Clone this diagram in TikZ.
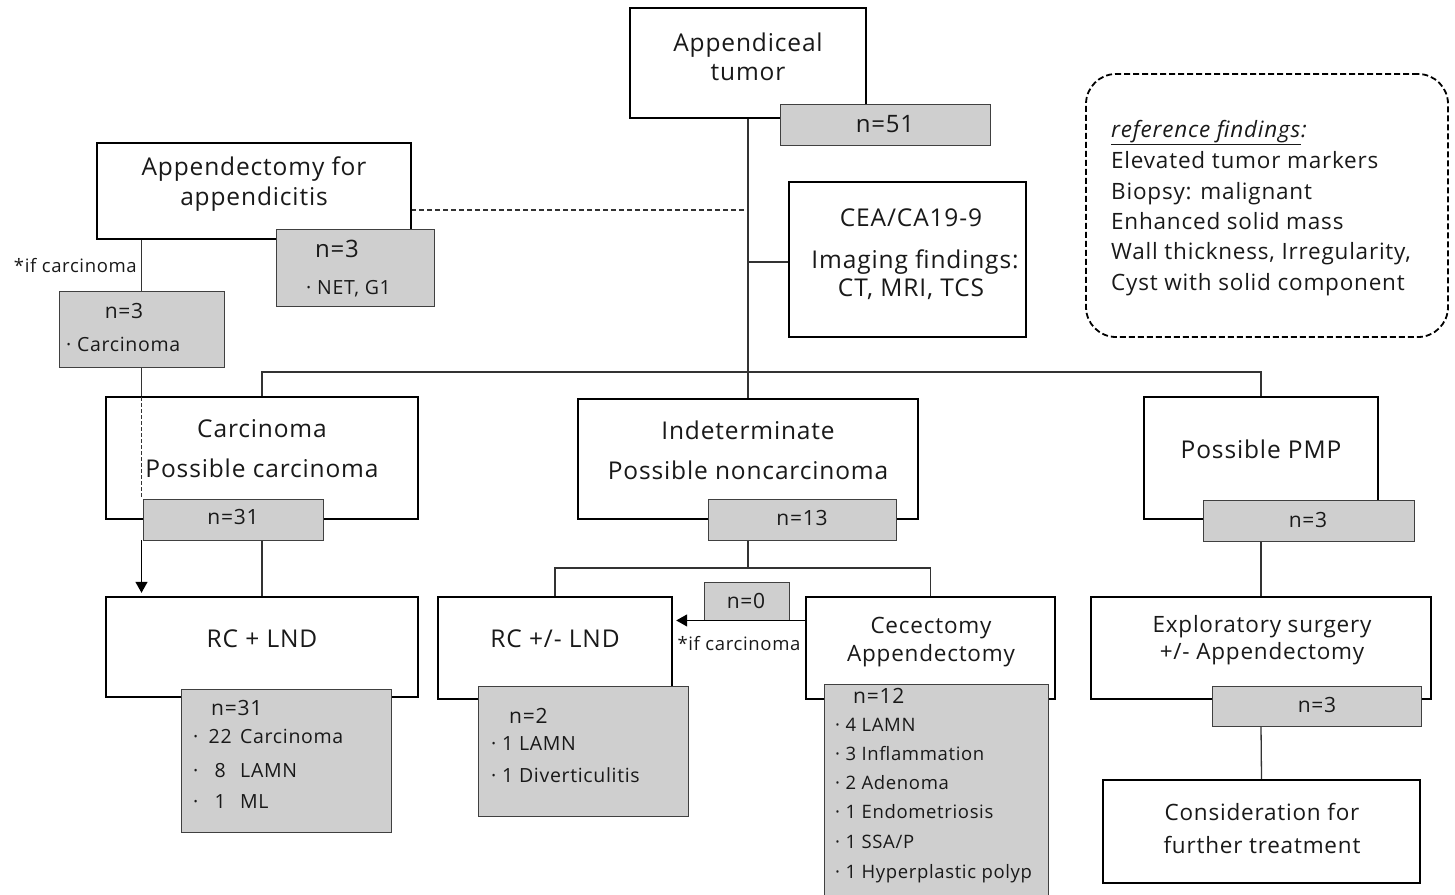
\documentclass[tikz,border=0pt]{standalone}
\usepackage{fontspec}
\setmainfont{Open Sans}[LetterSpace=3.5]
\usetikzlibrary{arrows.meta,backgrounds}
\newcommand{\fmain}{\fontsize{24.5}{28}\selectfont}
\newcommand{\fsub}{\fontsize{22.5}{26}\selectfont}
\newcommand{\fnumA}{\fontsize{24}{28}\selectfont}
\newcommand{\fnumB}{\fontsize{21}{25}\selectfont}
\newcommand{\flst}{\fontsize{19.5}{23}\selectfont}
\newcommand{\flstS}{\fontsize{18.5}{22}\selectfont}
\newcommand{\fref}{\fontsize{22.5}{26}\selectfont}
\newcommand{\litem}[2]{\makebox[12pt][l]{·}\makebox[30pt][c]{#1}\hspace{5pt}#2}
\begin{document}
\begin{tikzpicture}[x=1pt,y=-1pt,
  mainbox/.style={draw=black, line width=2.4pt, fill=white, inner sep=0pt},
  graybox/.style={draw=black!75, line width=0.9pt, fill=black!19, inner sep=0pt},
  refbox/.style={draw=black, line width=1.8pt, dash pattern=on 6pt off 3pt, rounded corners=30pt, inner sep=0pt},
  conn/.style={draw=black!80, line width=1.3pt},
  dconn/.style={conn, dash pattern=on 5pt off 3pt},
  dconnS/.style={conn, line width=1.1pt, dash pattern=on 4pt off 2pt},
  arr/.style={draw=black, line width=1.4pt, -{Triangle[length=11pt,width=12pt]}, shorten >=3pt},
  tx/.style={inner sep=0pt, anchor=base, text=black!90},
  txl/.style={inner sep=0pt, anchor=base west, text=black!90},
  txr/.style={inner sep=0pt, anchor=base east, text=black!90}]
\useasboundingbox (0,0) rectangle (1455,894);

% ---------- boxes ----------
\node[mainbox, minimum width=236pt, minimum height=110pt] (tumor) at (748,63) {};
\node[graybox, minimum width=210pt, minimum height=41pt] (n51) at (885,124.5) {};
\node[mainbox, minimum width=314pt, minimum height=96pt] (appx) at (254,191) {};
\node[graybox, minimum width=158pt, minimum height=77pt] (net) at (355,267.5) {};
\node[mainbox, minimum width=237pt, minimum height=155pt] (cea) at (907.5,259.5) {};
\node[refbox, minimum width=362pt, minimum height=263pt] (ref) at (1267,205.5) {};
\node[graybox, minimum width=165pt, minimum height=76pt] (carcg) at (141.5,329) {};
\node[mainbox, minimum width=312pt, minimum height=122pt] (carc) at (262,458) {};
\node[graybox, minimum width=180pt, minimum height=41pt] (n31) at (233,519.5) {};
\node[mainbox, minimum width=312pt, minimum height=100pt] (rclnd) at (262,647) {};
\node[graybox, minimum width=210pt, minimum height=143pt] (l31) at (286,760.5) {};
\node[mainbox, minimum width=340pt, minimum height=120pt] (indet) at (748,459) {};
\node[graybox, minimum width=188pt, minimum height=41pt] (n13) at (802,519.5) {};
\node[mainbox, minimum width=234pt, minimum height=102pt] (rcpm) at (555,648) {};
\node[graybox, minimum width=210pt, minimum height=130pt] (l2) at (583,751) {};
\node[graybox, minimum width=85pt, minimum height=38pt] (n0) at (746.5,601) {};
\node[mainbox, minimum width=249pt, minimum height=102pt] (cec) at (930.5,648) {};
\node[graybox, minimum width=224pt, minimum height=214pt] (l12) at (936,791) {};
\node[mainbox, minimum width=234pt, minimum height=122pt] (pmp) at (1261,458) {};
\node[graybox, minimum width=211pt, minimum height=41pt] (n3p) at (1308.5,520.5) {};
\node[mainbox, minimum width=340pt, minimum height=102pt] (expl) at (1261,648) {};
\node[graybox, minimum width=209pt, minimum height=40pt] (n3e) at (1316.5,706) {};
\node[mainbox, minimum width=317pt, minimum height=103pt] (cons) at (1261.5,831.5) {};

\coordinate (j1) at (748,372);
\coordinate (j3) at (748,568);
\coordinate (dA) at (411,210);
\coordinate (jc) at (748,262);

% ---------- connectors ----------
\begin{scope}[on background layer]
\draw[conn] (tumor.south) -- (indet.north);
\draw[conn] (jc) -- (jc -| cea.west);
\draw[dconn] (dA) -- (dA -| tumor.south);
\draw[conn] (carc.north) |- (j1 -| pmp.north) -- (pmp.north);
\draw[conn] (appx.south -| carcg.north) -- (carcg.north);
\draw[conn] (carcg.south) -- (carcg.south |- carc.north);
\draw[conn] (n31.south -| carc.south) -- (rclnd.north);
\draw[conn] (n13.south -| indet.south) -- (j3);
\draw[conn] (rcpm.north) |- (j3 -| cec.north) -- (cec.north);
\draw[conn] (n3p.south -| pmp.south) -- (expl.north);
\draw[conn] (n3e.south -| expl.south) -- (cons.north);
\end{scope}
\draw[dconnS] ([yshift=-1.5pt]carcg.south |- carc.north) -- (carcg.south |- n31.north);
\draw[arr] (carcg.south |- n31.south) -- (carcg.south |- rclnd.north);
\draw[arr] (n0.south -| cec.west) -- (n0.south -| rcpm.east);

% ---------- texts ----------
\node[tx, font=\fmain] (t1) at (748,51) {Appendiceal};
\node[tx, font=\fmain] (t2) at (748,80) {tumor};
\node[tx, font=\fnumA] (t3) at (885,132) {n=51};
\node[tx, font=\fmain] (t4) at (254,175) {Appendectomy for};
\node[tx, font=\fmain] (t5) at (254,205) {appendicitis};
\node[tx, font=\fnumA] (t6) at (337,257) {n=3};
\node[txl, font=\flst] (t7) at (306,294) {· NET, G1};
\node[txr, font=\flstS] (t8) at (137,272) {*if carcinoma};
\node[tx, font=\fnumB] (t9) at (124,318) {n=3};
\node[txl, font=\flst] (t10) at (66,351) {· Carcinoma};
\node[tx, font=\fmain] (t11) at (911,226) {CEA/CA19-9};
\node[tx, font=\fmain] (t12) at (915,268) {Imaging findings:};
\node[tx, font=\fmain] (t13) at (911,296) {CT, MRI, TCS};
\node[txl, font=\fref] (r1) at (1111,137) {\underline{\textit{reference findings}}\textit{:}};
\node[txl, font=\fref] (r2) at (1111,168) {Elevated tumor markers};
\node[txl, font=\fref] (r3) at (1111,199) {Biopsy: malignant};
\node[txl, font=\fref] (r4) at (1111,229) {Enhanced solid mass};
\node[txl, font=\fref] (r5) at (1111,259) {Wall thickness, Irregularity,};
\node[txl, font=\fref] (r6) at (1111,290) {Cyst with solid component};
\node[tx, font=\fmain] (t14) at (262,437) {Carcinoma};
\node[tx, font=\fmain] (t15) at (262,477) {Possible carcinoma};
\node[tx, font=\fnumB] (t16) at (233,524) {n=31};
\node[tx, font=\fmain] (t17) at (262,647) {RC + LND};
\node[txl, font=\fnumB] (t18) at (211,715) {n=31};
\node[txl, font=\flst] (t19) at (193,743) {\litem{22}{Carcinoma}};
\node[txl, font=\flst] (t20) at (193,777) {\litem{8}{LAMN}};
\node[txl, font=\flst] (t21) at (193,808) {\litem{1}{ML}};
\node[tx, font=\fmain] (t22) at (748,439) {Indeterminate};
\node[tx, font=\fmain] (t23) at (748,479) {Possible noncarcinoma};
\node[tx, font=\fnumB] (t24) at (802,525) {n=13};
\node[tx, font=\fmain] (t25) at (555,647) {RC +/- LND};
\node[txl, font=\fnumB] (t26) at (509,723) {n=2};
\node[txl, font=\flst] (t27) at (491,750) {· 1 LAMN};
\node[txl, font=\flst] (t28) at (491,782) {· 1 Diverticulitis};
\node[tx, font=\fnumB] (t29) at (746,608) {n=0};
\node[tx, font=\flstS] (t30) at (739,650) {*if carcinoma};
\node[tx, font=\fsub] (t31) at (931,633) {Cecectomy};
\node[tx, font=\fsub] (t32) at (931,661) {Appendectomy};
\node[txl, font=\fnumB] (t33) at (853,703) {n=12};
\node[txl, font=\flstS] (t34) at (835,731) {· 4 LAMN};
\node[txl, font=\flstS] (t35) at (835,760) {· 3 Inflammation};
\node[txl, font=\flstS] (t36) at (835,789) {· 2 Adenoma};
\node[txl, font=\flstS] (t37) at (835,818) {· 1 Endometriosis};
\node[txl, font=\flstS] (t38) at (835,848) {· 1 SSA/P};
\node[txl, font=\flstS] (t39) at (835,878) {· 1 Hyperplastic polyp};
\node[tx, font=\fmain] (t40) at (1261,458) {Possible PMP};
\node[tx, font=\fnumB] (t41) at (1308,527) {n=3};
\node[tx, font=\fsub] (t42) at (1262,632) {Exploratory surgery};
\node[tx, font=\fsub] (t43) at (1262,659) {+/- Appendectomy};
\node[tx, font=\fnumB] (t44) at (1317,712) {n=3};
\node[tx, font=\fsub] (t45) at (1262,820) {Consideration for};
\node[tx, font=\fsub] (t46) at (1262,853) {further treatment};
\end{tikzpicture}
\end{document}
